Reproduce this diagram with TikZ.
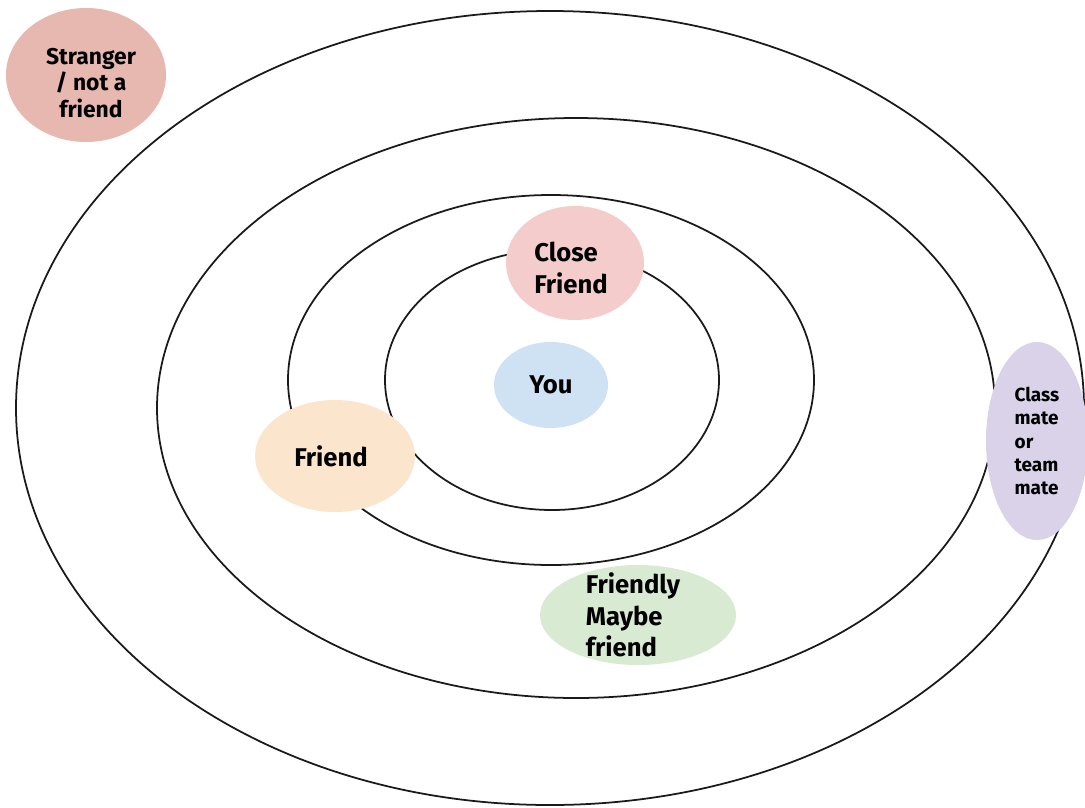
\documentclass[tikz,border=0pt]{standalone}
\usepackage{fontspec}
\setmainfont{Fira Sans}
\usepackage{xcolor}
\usepackage{tikz}
\usetikzlibrary{calc,shapes.geometric}
\definecolor{ringline}{HTML}{1A1A1A}
\definecolor{strangerfill}{HTML}{E6B8AF}
\definecolor{closefill}{HTML}{F4CCCC}
\definecolor{youfill}{HTML}{CFE2F3}
\definecolor{friendfill}{HTML}{FCE5CD}
\definecolor{maybefill}{HTML}{D9EAD3}
\definecolor{matefill}{HTML}{D9D2E9}
\tikzset{
  ring/.style={draw=ringline, line width=0.5pt},
  blob/.style={ellipse, draw=none, inner sep=0pt, outer sep=0pt},
  lab/.style={text=black, font=\fontsize{7.3}{9}\selectfont\bfseries, align=left, inner sep=0pt},
  smalllab/.style={lab, font=\fontsize{6.5}{7.6}\selectfont\bfseries, align=center},
  tinylab/.style={lab, font=\fontsize{5.4}{6.6}\selectfont\bfseries},
}
\begin{document}
\begin{tikzpicture}
  \useasboundingbox (0,0) rectangle (10.85,8.07);
  \fill[white] (0,0) rectangle (10.85,8.07);
  % circles of closeness
  \coordinate (inner) at (5.52,4.27);
  \coordinate (mid) at (5.51,4.27);
  \coordinate (wide) at (5.76,3.99);
  \coordinate (outer) at (5.50,3.99);
  \draw[ring] (inner) ellipse [x radius=1.67, y radius=1.30];
  \draw[ring] (mid) ellipse [x radius=2.63, y radius=1.85];
  \draw[ring] (wide) ellipse [x radius=4.19, y radius=2.90];
  \draw[ring] (outer) ellipse [x radius=5.34, y radius=3.97];
  % people
  \node[blob, fill=strangerfill, minimum width=1.60cm, minimum height=1.34cm] (stranger) at (0.86,7.32) {};
  \node[blob, fill=closefill, minimum width=1.38cm, minimum height=1.14cm] (close) at (5.75,5.44) {};
  \node[blob, fill=youfill, minimum width=1.14cm, minimum height=0.86cm] (you) at (5.51,4.22) {};
  \node[blob, fill=friendfill, minimum width=1.60cm, minimum height=1.12cm] (friend) at (3.35,3.51) {};
  \node[blob, fill=maybefill, minimum width=1.96cm, minimum height=1.00cm] (maybe) at (6.38,1.92) {};
  \node[blob, fill=matefill, minimum width=1.02cm, minimum height=1.98cm] (mate) at (10.37,3.66) {};
  % labels
  \node[smalllab] (strangerlab) at ($(stranger)+(0.05,-0.08)$) {Stranger\\/ not a\\friend};
  \node[lab] (closelab) at ($(close)+(-0.04,-0.05)$) {Close\\Friend};
  \node[lab] (youlab) at (you) {You};
  \node[lab] (friendlab) at ($(friend)+(-0.04,0)$) {Friend};
  \node[lab] (maybelab) at ($(maybe)+(-0.05,0)$) {Friendly\\Maybe\\friend};
  \node[tinylab] (matelab) at (mate) {Class\\mate\\or\\team\\mate};
\end{tikzpicture}
\end{document}
